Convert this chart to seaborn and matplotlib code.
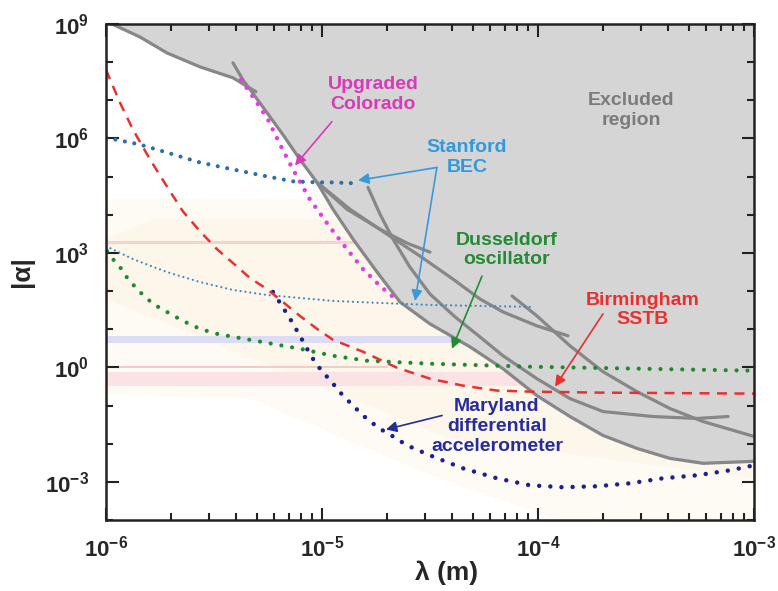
import matplotlib
matplotlib.use("Agg")
import matplotlib.pyplot as plt
import numpy as np
import seaborn as sns
from matplotlib.ticker import FixedLocator, FuncFormatter, LogLocator, NullFormatter

# All curves are stored as log10(lambda / m) and log10(|alpha|).

# Upgraded Colorado (magenta, dotted)
colorado_lam = [-5.375, -5.310, -5.250, -5.194, -5.134, -5.056, -4.963, -4.884, -4.810, -4.731, -4.648]
colorado_alpha = [7.538, 7.016, 6.493, 5.841, 5.188, 4.405, 3.674, 3.099, 2.577, 2.133, 1.742]

# Stanford BEC, present (thick dots) and projected (thin dots)
stanford_lam = [-6.0, -5.843, -5.718, -5.565, -5.412, -5.255, -5.134, -5.023, -4.931, -4.870, -4.838]
stanford_alpha = [6.023, 5.841, 5.632, 5.371, 5.188, 5.005, 4.875, 4.849, 4.849, 4.82, 4.90]
stanford2_lam = [-6.0, -5.875, -5.718, -5.565, -5.412, -5.255, -5.102, -4.949, -4.731, -4.500, -4.269, -4.023]
stanford2_alpha = [3.178, 2.838, 2.499, 2.238, 2.029, 1.898, 1.820, 1.742, 1.689, 1.637, 1.611, 1.585]

# Dusseldorf oscillator (green, dotted)
dussel_lam = [-5.995, -5.968, -5.935, -5.898, -5.843, -5.782, -5.718, -5.644, -5.565, -5.486,
              -5.412, -5.255, -5.102, -4.949, -4.792, -4.500, -4.037, -3.528, -3.0]
dussel_alpha = [3.047, 2.838, 2.629, 2.316, 1.977, 1.663, 1.454, 1.219, 1.010, 0.880,
                0.802, 0.645, 0.488, 0.305, 0.175, 0.097, 0.018, -0.034, -0.086]

# Birmingham SSTB (red, dashed)
birm_lam = [-6.0, -5.935, -5.875, -5.796, -5.718, -5.644, -5.565, -5.486, -5.412, -5.333, -5.255,
            -5.181, -5.102, -5.023, -4.949, -4.810, -4.653, -4.500, -4.347, -4.190, -4.037, -3.713, -3.0]
birm_alpha = [7.799, 6.937, 6.232, 5.449, 4.744, 4.091, 3.569, 3.099, 2.734, 2.342, 2.055,
              1.715, 1.350, 1.010, 0.723, 0.410, -0.008, -0.295, -0.478, -0.608, -0.635, -0.661, -0.687]

# Maryland differential accelerometer (navy, dotted)
mary_lam = [-5.227, -5.185, -5.139, -5.102, -5.069, -5.042, -5.009, -4.977, -4.949, -4.903, -4.856,
            -4.810, -4.764, -4.718, -4.671, -4.606, -4.500, -4.347, -4.190, -4.037, -3.884, -3.727,
            -3.574, -3.421, -3.264, -3.111, -3.0]
mary_alpha = [1.977, 1.611, 1.193, 0.828, 0.488, 0.227, -0.034, -0.243, -0.426, -0.739, -1.000,
              -1.261, -1.470, -1.653, -1.809, -2.044, -2.305, -2.645, -2.906, -3.089, -3.141, -3.115,
              -3.037, -2.906, -2.828, -2.697, -2.567]

# existing experimental limits (grey)
lim1_lam = [-6.0, -5.972, -5.843, -5.718, -5.565, -5.412, -5.306]
lim1_alpha = [9.078, 9.0, 8.661, 8.243, 7.877, 7.590, 7.225]
lim2_lam = [-5.412, -5.366, -5.278, -5.181, -5.102, -5.023, -4.949, -4.856, -4.745, -4.639, -4.500,
            -4.315, -4.162, -4.005, -3.852, -3.699, -3.542, -3.389, -3.236, -3.0]
lim2_alpha = [7.982, 7.538, 6.859, 6.102, 5.449, 4.849, 4.144, 3.360, 2.499, 1.715, 1.141,
              0.540, -0.034, -0.739, -1.287, -1.783, -2.123, -2.384, -2.514, -2.462]
lim3_lam = [-5.023, -4.884, -4.731, -4.606, -4.500]
lim3_alpha = [4.849, 4.144, 3.621, 3.256, 3.021]
lim4_lam = [-5.023, -4.870, -4.685, -4.546, -4.394, -4.269, -4.162, -4.005, -3.861]
lim4_alpha = [4.849, 4.144, 3.439, 2.916, 2.316, 1.794, 1.454, 1.089, 0.828]
lim5_lam = [-4.787, -4.731, -4.671, -4.593, -4.500, -4.384, -4.269, -4.162, -4.005, -3.852,
            -3.699, -3.468, -3.264, -3.120]
lim5_alpha = [4.718, 4.013, 3.360, 2.629, 1.924, 1.324, 0.802, 0.305, -0.295, -0.817,
              -1.157, -1.287, -1.339, -1.287]
lim6_lam = [-4.120, -4.005, -3.852, -3.699, -3.542, -3.389, -3.236, -3.0]
lim6_alpha = [1.872, 1.350, 0.567, -0.112, -0.635, -1.078, -1.418, -1.809]

# faint background shading (theory regions)
shade_lam = [-6.0, -3.0, -3.0, -3.898, -4.5, -5.333, -6.0]
shade_alpha = [4.405, 4.405, -4.0, -4.0, -2.828, -0.817, -0.687]
shade2_lam = [-5.782, -3.0, -3.0, -4.407, -6.0, -6.0]
shade2_alpha = [3.883, 3.883, -2.906, -1.862, 1.794, 3.360]
blue_band = (0.63, 0.81)
pink_band = (-0.50, -0.11)
pink_line = 3.28


def p(vals):
    return 10.0 ** np.asarray(vals)


sns.set_style("ticks")
plt.rcParams["font.family"] = ["Liberation Sans", "DejaVu Sans"]
plt.rcParams["font.weight"] = "bold"
plt.rcParams["mathtext.fontset"] = "custom"
plt.rcParams["mathtext.rm"] = "Liberation Sans:bold"
plt.rcParams["mathtext.bf"] = "Liberation Sans:bold"
plt.rcParams["mathtext.default"] = "bf"

fig = plt.figure(figsize=(7.78, 5.91), dpi=100)
ax = fig.add_axes([0.1362, 0.1201, 0.8329, 0.8393])
ax.set_xscale("log")
ax.set_yscale("log")

# background shading
ax.fill(p(shade_lam), p(shade_alpha), color="#fefbf5", lw=0, zorder=0.1)
ax.fill(p(shade2_lam), p(shade2_alpha), color="#fdf6eb", lw=0, zorder=0.15)
ax.axhspan(*p(blue_band), color="#dcdcf5", lw=0, zorder=0.2)
ax.axhspan(*p(pink_band), color="#fbe2e4", lw=0, zorder=0.2)
ax.axhline(p(pink_line), color="#f8d3cb", lw=2.2, zorder=0.2)
ax.plot(p([-6.0, -4.70]), p([0.0, 0.0]), color="#f6c9c9", lw=1.4, zorder=0.25)

# excluded region
env_lam = np.concatenate([lim1_lam[:6], lim2_lam[1:]])
env_alpha = np.concatenate([lim1_alpha[:6], lim2_alpha[1:]])
ax.fill_between(p(env_lam), p(env_alpha), 1e9, color="#d5d5d5", lw=0, zorder=0.5)

for lx, ly in [(lim1_lam, lim1_alpha), (lim2_lam, lim2_alpha), (lim3_lam, lim3_alpha),
               (lim4_lam, lim4_alpha), (lim5_lam, lim5_alpha), (lim6_lam, lim6_alpha)]:
    sns.lineplot(x=p(lx), y=p(ly), ax=ax, color="#878787", lw=2.3, sort=False,
                 estimator=None, errorbar=None, zorder=1)

dot = dict(sort=False, estimator=None, errorbar=None, dash_capstyle="round", zorder=2)
sns.lineplot(x=p(colorado_lam), y=p(colorado_alpha), ax=ax, color="#e23fe0", lw=3.2,
             linestyle=(0, (0.01, 2.2)), **dot)
sns.lineplot(x=p(stanford_lam), y=p(stanford_alpha), ax=ax, color="#2b6fae", lw=3.0,
             linestyle=(0, (0.01, 2.3)), **dot)
sns.lineplot(x=p(stanford2_lam), y=p(stanford2_alpha), ax=ax, color="#3d86c0", lw=1.6,
             linestyle=(0, (0.01, 2.2)), **dot)
sns.lineplot(x=p(dussel_lam), y=p(dussel_alpha), ax=ax, color="#1d8a2e", lw=3.0,
             linestyle=(0, (0.01, 2.6)), **dot)
sns.lineplot(x=p(mary_lam), y=p(mary_alpha), ax=ax, color="#1b1f8f", lw=3.2,
             linestyle=(0, (0.01, 2.5)), **dot)
sns.lineplot(x=p(birm_lam), y=p(birm_alpha), ax=ax, color="#e8312f", lw=1.8,
             linestyle=(0, (4, 3)), sort=False, estimator=None, errorbar=None, zorder=2)

# labels and arrows
txt = dict(ha="center", va="center", fontsize=14, fontweight="bold", zorder=5)
arr = dict(arrowstyle="-|>", lw=1.2, mutation_scale=16, shrinkA=0, shrinkB=0)

ax.text(p(-4.764), p(7.146), "Upgraded\nColorado", color="#d93ab8", **txt)
ax.annotate("", xy=(p(-5.125), p(5.292)), xytext=(p(-4.954), p(6.441)),
            arrowprops=dict(color="#d93ab8", **arr), zorder=5)

ax.text(p(-3.569), p(6.728), "Excluded\nregion", color="#7b7b7b", **txt)

ax.text(p(-4.329), p(5.501), "Stanford\nBEC", color="#3399dd", **txt)
for tip in [(-4.833, 4.901), (-4.569, 1.742)]:
    ax.annotate("", xy=(p(tip[0]), p(tip[1])), xytext=(p(-4.468), p(5.240)),
                arrowprops=dict(color="#3a9ad9", **arr), zorder=5)

ax.text(p(-4.144), p(3.073), "Dusseldorf\noscillator", color="#238b35", **txt)
ax.annotate("", xy=(p(-4.398), p(0.488)), xytext=(p(-4.259), p(2.394)),
            arrowprops=dict(color="#238b35", **arr), zorder=5)

ax.text(p(-3.514), p(1.507), "Birmingham\nSSTB", color="#e8312f", **txt)
ax.annotate("", xy=(p(-3.921), p(-0.504)), xytext=(p(-3.699), p(1.402)),
            arrowprops=dict(color="#e8312f", **arr), zorder=5)

ax.text(p(-4.190), p(-1.548), "Maryland\ndifferential\naccelerometer", color="#252d9c", **txt)
ax.annotate("", xy=(p(-4.704), p(-1.627)), xytext=(p(-4.444), p(-1.261)),
            arrowprops=dict(color="#252d9c", **arr), zorder=5)

# axes
ax.set_xlim(1e-6, 1e-3)
ax.set_ylim(1e-4, 1e9)
ax.xaxis.set_major_locator(FixedLocator([1e-6, 1e-5, 1e-4, 1e-3]))
ax.xaxis.set_minor_locator(LogLocator(base=10, subs=np.arange(2, 10), numticks=20))
ax.yaxis.set_major_locator(FixedLocator([1e-3, 1e0, 1e3, 1e6, 1e9]))
ax.yaxis.set_minor_locator(FixedLocator([10.0 ** k for k in range(-4, 10)]))
fmt = FuncFormatter(lambda v, pos: r"$\mathbf{10^{%d}}$" % int(round(np.log10(v))))
ax.xaxis.set_major_formatter(fmt)
ax.yaxis.set_major_formatter(fmt)
ax.xaxis.set_minor_formatter(NullFormatter())
ax.yaxis.set_minor_formatter(NullFormatter())
ax.tick_params(which="both", direction="in", top=True, right=True, width=1.5, color="#222222")
ax.tick_params(which="major", length=9, labelsize=16)
ax.tick_params(which="minor", length=5)
ax.tick_params(axis="x", which="major", pad=11)
ax.tick_params(axis="y", which="major", pad=12)
for s in ax.spines.values():
    s.set_linewidth(1.8)
    s.set_color("#222222")

ax.set_xlabel("λ (m)", fontsize=19, fontweight="bold")
ax.xaxis.set_label_coords(0.526, -0.082)
ax.set_ylabel("|α|", fontsize=19, fontweight="bold", labelpad=8)

fig.savefig("out.png", dpi=100)
